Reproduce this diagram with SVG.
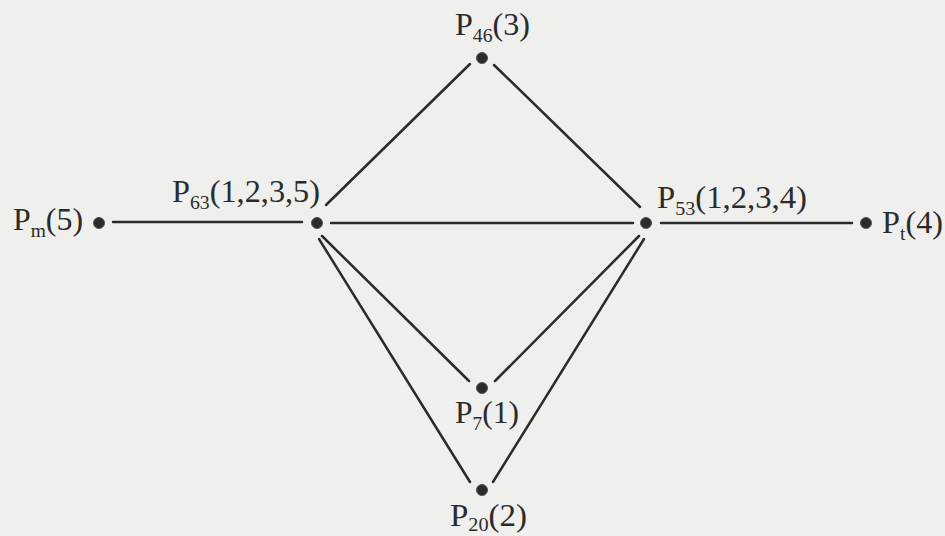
<svg xmlns="http://www.w3.org/2000/svg" width="945" height="536" viewBox="0 0 945 536">
<style>
.bg{fill:#efefed}
.e{stroke:#2b2b2b;stroke-width:2.5;fill:none;stroke-linecap:round}
.d{fill:#2b2b2b;stroke:#555;stroke-width:1}
.t{font-family:"Liberation Serif","Times New Roman",serif;font-size:31px;fill:#2b2b2b}
.s{font-size:19px}
</style>
<rect class="bg" x="0" y="0" width="945" height="536"/>
<g id="connectors">
<line class="e" x1="113" y1="222" x2="302" y2="222"/>
<line class="e" x1="331" y1="223" x2="633" y2="223"/>
<line class="e" x1="661" y1="223" x2="852" y2="223"/>
<line class="e" x1="470" y1="64" x2="326" y2="205"/>
<line class="e" x1="494" y1="65" x2="640" y2="207"/>
<line class="e" x1="322" y1="236" x2="469" y2="381"/>
<line class="e" x1="319" y1="239" x2="470" y2="482"/>
<line class="e" x1="639" y1="236" x2="495" y2="381"/>
<line class="e" x1="644" y1="239" x2="493" y2="482"/>
</g>
<g id="P46">
<circle class="d" cx="482" cy="58" r="5.5"/>
<text class="t" x="455" y="35" textLength="75" lengthAdjust="spacingAndGlyphs">P<tspan class="s" dy="7">46</tspan><tspan dy="-7">(3)</tspan></text>
</g>
<g id="P63">
<circle class="d" cx="317" cy="223" r="5.5"/>
<text class="t" x="172" y="202" textLength="148" lengthAdjust="spacingAndGlyphs">P<tspan class="s" dy="7">63</tspan><tspan dy="-7">(1,2,3,5)</tspan></text>
</g>
<g id="P53">
<circle class="d" cx="646" cy="223" r="5.5"/>
<text class="t" x="657" y="208" textLength="150" lengthAdjust="spacingAndGlyphs">P<tspan class="s" dy="7">53</tspan><tspan dy="-7">(1,2,3,4)</tspan></text>
</g>
<g id="Pm">
<circle class="d" cx="99" cy="223" r="5.5"/>
<text class="t" x="13" y="230" textLength="70" lengthAdjust="spacingAndGlyphs">P<tspan class="s" dy="7">m</tspan><tspan dy="-7">(5)</tspan></text>
</g>
<g id="Pt">
<circle class="d" cx="866" cy="223" r="5.5"/>
<text class="t" x="882" y="233" textLength="61" lengthAdjust="spacingAndGlyphs">P<tspan class="s" dy="7">t</tspan><tspan dy="-7">(4)</tspan></text>
</g>
<g id="P7">
<circle class="d" cx="482" cy="388" r="5.5"/>
<text class="t" x="455" y="423" textLength="64" lengthAdjust="spacingAndGlyphs">P<tspan class="s" dy="7">7</tspan><tspan dy="-7">(1)</tspan></text>
</g>
<g id="P20">
<circle class="d" cx="482" cy="490" r="5.5"/>
<text class="t" x="450" y="526" textLength="77" lengthAdjust="spacingAndGlyphs">P<tspan class="s" dy="5">20</tspan><tspan dy="-5">(2)</tspan></text>
</g>
</svg>
